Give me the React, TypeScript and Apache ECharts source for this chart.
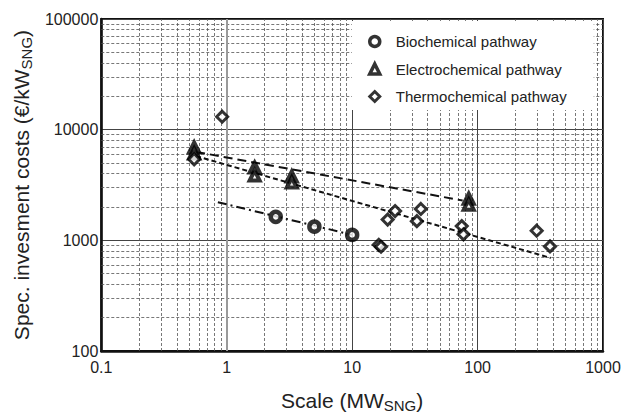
import React, { useEffect, useRef } from "react";
import * as echarts from "echarts";

// ---- data ----
const bioX = [2.46, 5.0, 10.0];
const bioY = [1630, 1330, 1120];

const elecX = [0.55, 0.55, 1.67, 1.67, 3.3, 3.3, 85, 85];
const elecY = [6900, 6100, 4540, 3850, 3770, 3330, 2380, 2100];

const thermoX = [0.55, 0.92, 16.3, 17.0, 19.2, 22.0, 32.8, 35.3, 74.8, 77.2, 296, 378];
const thermoY = [5400, 13100, 910, 875, 1540, 1840, 1490, 1920, 1345, 1133, 1222, 881];

const elecTrendX = [0.57, 76];
const elecTrendY = [6300, 2290];
const thermoTrendX = [0.57, 383];
const thermoTrendY = [5770, 693];
const bioTrendX = [0.85, 10];
const bioTrendY = [2213, 1120];

const xTickLabels = ["0.1", "1", "10", "100", "1000"];
const yTickLabels = ["100", "1000", "10000", "100000"];
const xDecades = [0.1, 1, 10, 100];
const yDecades = [100, 1000, 10000];
const minorMultipliers = [2, 3, 4, 5, 6, 7, 8, 9];

const legendNames = ["Biochemical pathway", "Electrochemical pathway", "Thermochemical pathway"];
const legendIcons = ["circle", "triangle", "diamond"];

const FONT = "Liberation Sans, Arial, Helvetica, sans-serif";

const zip = (xs: number[], ys: number[]) => xs.map((x, i) => [x, ys[i]]);

export default function App() {
  const ref = useRef<HTMLDivElement>(null);
  useEffect(() => {
    if (!ref.current) return;
    const chart = echarts.init(ref.current, undefined, { renderer: "svg" });

    const minorStyle = { color: "#555", width: 0.8, type: [3, 2] as any };
    const minorLines: any[] = [];
    xDecades.forEach((d) =>
      minorMultipliers.forEach((m) => minorLines.push({ xAxis: d * m, lineStyle: minorStyle }))
    );
    yDecades.forEach((d) =>
      minorMultipliers.forEach((m) => minorLines.push({ yAxis: d * m, lineStyle: minorStyle }))
    );
    minorLines.push({ xAxis: 1, lineStyle: { color: "#9a9a9a", width: 2, type: "solid" } });

    const markerBase = { color: "#ffffff", borderColor: "#000000" };
    const legendBorder = [3.5, 3.5, 3];

    const option: any = {
      animation: false,
      backgroundColor: "#ffffff",
      textStyle: { fontFamily: FONT },
      grid: {
        left: 100,
        right: 22,
        top: 19,
        bottom: 62,
        show: true,
        borderColor: "#111",
        borderWidth: 2,
        backgroundColor: "transparent",
      },
      legend: {
        data: legendNames.map((n, i) => ({
          name: n,
          icon: legendIcons[i],
          itemStyle: { color: "#fff", borderColor: "#000", borderWidth: legendBorder[i] },
        })),
        orient: "vertical",
        left: 352,
        top: 21,
        z: 10,
        itemWidth: 10,
        itemHeight: 10,
        itemGap: 12.5,
        padding: [13, 27, 6, 16],
        backgroundColor: "#ffffff",
        selectedMode: false,
        textStyle: { fontFamily: FONT, fontSize: 15, color: "#222", lineHeight: 15, padding: [0, 0, 0, 11] },
      },
      xAxis: {
        type: "log",
        logBase: 10,
        min: 0.1,
        max: 1000,
        name: "Scale (MW{sub|SNG})",
        nameLocation: "middle",
        nameGap: 36,
        nameTextStyle: {
          fontFamily: FONT,
          fontSize: 21,
          color: "#222",
          lineHeight: 26,
          rich: { sub: { fontFamily: FONT, fontSize: 15, color: "#222", lineHeight: 12, verticalAlign: "bottom" } },
        },
        axisLine: { show: true, lineStyle: { color: "#111", width: 2.5 } },
        axisTick: { show: false },
        axisLabel: {
          margin: 8,
          fontFamily: FONT,
          fontSize: 16,
          color: "#222",
          formatter: (v: number) => xTickLabels[Math.round(Math.log10(v)) + 1] ?? "",
        },
        splitLine: { show: true, lineStyle: { color: "#444", width: 1 } },
      },
      yAxis: {
        type: "log",
        logBase: 10,
        min: 100,
        max: 100000,
        name: "Spec. invesment costs (€/kW{sub|SNG})",
        nameLocation: "middle",
        nameGap: 58,
        nameTextStyle: {
          fontFamily: FONT,
          fontSize: 21,
          color: "#222",
          lineHeight: 26,
          rich: { sub: { fontFamily: FONT, fontSize: 15, color: "#222", lineHeight: 12, verticalAlign: "bottom" } },
        },
        axisLine: { show: true, lineStyle: { color: "#111", width: 2.5 } },
        axisTick: { show: false },
        axisLabel: {
          margin: 3,
          fontFamily: FONT,
          fontSize: 16,
          color: "#222",
          formatter: (v: number) => yTickLabels[Math.round(Math.log10(v)) - 2] ?? "",
        },
        splitLine: { show: true, lineStyle: { color: "#444", width: 1 } },
      },
      series: [
        {
          name: "grid-minor",
          type: "line",
          data: [],
          silent: true,
          z: 1,
          markLine: {
            silent: true,
            z: 1,
            symbol: ["none", "none"],
            label: { show: false },
            animation: false,
            data: minorLines,
          },
        },
        {
          name: "bio-trend",
          type: "line",
          data: zip(bioTrendX, bioTrendY),
          symbol: "none",
          silent: true,
          z: 3,
          lineStyle: { color: "#111", width: 2, type: [9, 4, 2, 4] },
        },
        {
          name: "elec-trend",
          type: "line",
          data: zip(elecTrendX, elecTrendY),
          symbol: "none",
          silent: true,
          z: 3,
          lineStyle: { color: "#111", width: 2, type: [9, 5] },
        },
        {
          name: "thermo-trend",
          type: "line",
          data: zip(thermoTrendX, thermoTrendY),
          symbol: "none",
          silent: true,
          z: 3,
          lineStyle: { color: "#111", width: 2, type: [5, 3] },
        },
        {
          name: legendNames[0],
          type: "scatter",
          data: zip(bioX, bioY),
          symbol: "circle",
          symbolSize: 10,
          z: 4,
          itemStyle: { ...markerBase, borderWidth: 4.5 },
        },
        {
          name: legendNames[1],
          type: "scatter",
          data: zip(elecX, elecY),
          symbol: "triangle",
          symbolSize: 10,
          z: 4,
          itemStyle: { ...markerBase, borderWidth: 4 },
        },
        {
          name: legendNames[2],
          type: "scatter",
          data: zip(thermoX, thermoY),
          symbol: "diamond",
          symbolSize: 11,
          z: 4,
          itemStyle: { ...markerBase, borderWidth: 3 },
        },
      ],
    };
    chart.setOption(option);
    return () => chart.dispose();
  }, []);
  return <div ref={ref} style={{ width: 625, height: 418, position: "absolute", left: 0, top: 0 }} />;
}
